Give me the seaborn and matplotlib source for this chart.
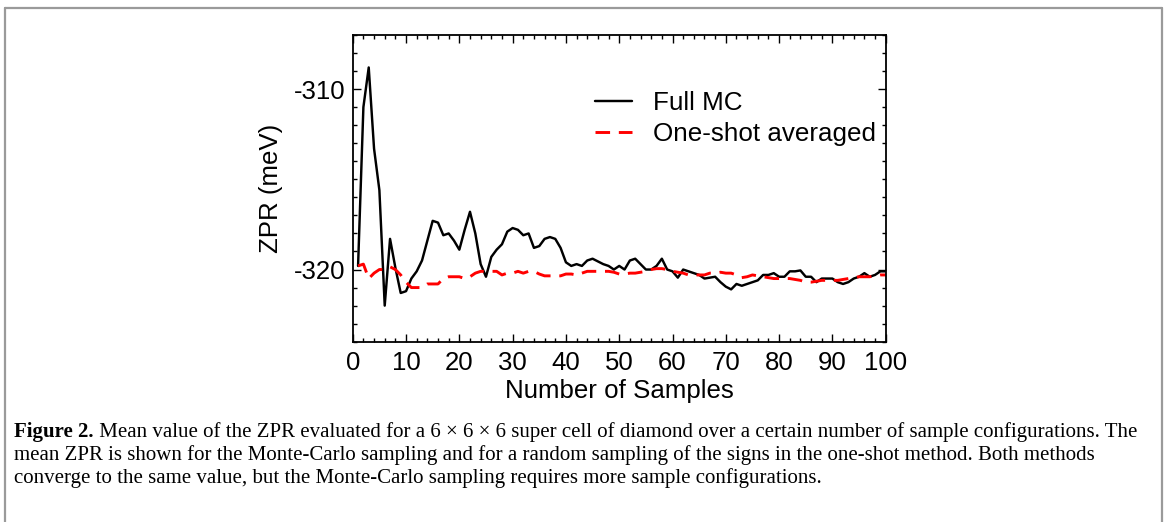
import numpy as np
import pandas as pd
import matplotlib
matplotlib.use("Agg")
import matplotlib.pyplot as plt
from matplotlib.ticker import MultipleLocator
from matplotlib.lines import Line2D
import seaborn as sns

# data (ZPR in meV vs. number of samples)
n_samples = list(range(1, 101))
full_mc = [
    -319.8, -311.0, -308.8, -313.3, -315.6, -322.0, -318.3, -319.9, -321.3, -321.2,
    -320.5, -320.1, -319.5, -318.4, -317.3, -317.4, -318.1, -318.0, -318.4, -318.9,
    -317.8, -316.8, -318.0, -319.7, -320.4, -319.3, -318.9, -318.6, -317.9, -317.7,
    -317.8, -318.1, -318.0, -318.8, -318.7, -318.3, -318.2, -318.3, -318.8, -319.6,
    -319.8, -319.7, -319.8, -319.5, -319.4, -319.55, -319.7, -319.8, -320.0, -319.8,
    -320.0, -319.5, -319.4, -319.7, -320.0, -320.0, -319.8, -319.4, -320.0, -320.1,
    -320.45, -320.0, -320.1, -320.2, -320.3, -320.5, -320.45, -320.4, -320.7, -320.95,
    -321.1, -320.8, -320.9, -320.8, -320.7, -320.6, -320.3, -320.3, -320.2, -320.4,
    -320.4, -320.1, -320.1, -320.05, -320.4, -320.4, -320.7, -320.5, -320.5, -320.5,
    -320.7, -320.8, -320.7, -320.5, -320.4, -320.2, -320.4, -320.3, -320.1, -320.1,
]
one_shot = [
    -319.8, -319.7, -320.5, -320.2, -320.0, -320.0, -319.85, -320.0, -320.3, -320.7,
    -321.0, -321.0, -321.0, -320.8, -320.8, -320.8, -320.5, -320.4, -320.4, -320.4,
    -320.5, -320.4, -320.2, -320.1, -320.1, -320.1, -320.1, -320.3, -320.2, -320.2,
    -320.1, -320.2, -320.1, -320.1, -320.25, -320.35, -320.35, -320.35, -320.35, -320.25,
    -320.25, -320.3, -320.2, -320.1, -320.1, -320.1, -320.1, -320.1, -320.15, -320.25,
    -320.25, -320.2, -320.2, -320.15, -320.1, -320.0, -319.95, -319.95, -320.0, -320.1,
    -320.15, -320.2, -320.3, -320.3, -320.3, -320.3, -320.2, -320.2, -320.15, -320.2,
    -320.2, -320.3, -320.45, -320.4, -320.3, -320.35, -320.4, -320.45, -320.5, -320.5,
    -320.5, -320.5, -320.55, -320.6, -320.7, -320.7, -320.65, -320.6, -320.6, -320.6,
    -320.6, -320.55, -320.5, -320.45, -320.4, -320.4, -320.4, -320.35, -320.3, -320.3,
]

caption_bold = "Figure 2."
caption_lines = [
    " Mean value of the ZPR evaluated for a 6 \u00d7 6 \u00d7 6 super cell of diamond over a certain number of sample configurations. The",
    "mean ZPR is shown for the Monte-Carlo sampling and for a random sampling of the signs in the one-shot method. Both methods",
    "converge to the same value, but the Monte-Carlo sampling requires more sample configurations.",
]

sns.set_style("ticks")
plt.rcParams['font.family'] = ['Liberation Sans', 'DejaVu Sans']
plt.rcParams['axes.unicode_minus'] = False
plt.rcParams['text.color'] = 'black'
plt.rcParams['axes.labelcolor'] = 'black'
plt.rcParams['xtick.color'] = 'black'
plt.rcParams['ytick.color'] = 'black'

df = pd.DataFrame({"n": n_samples, "Full MC": full_mc, "One-shot averaged": one_shot})

fig = plt.figure(figsize=(11.68, 5.22), dpi=100)
ax = fig.add_axes([0.302, 0.3454, 0.4563, 0.5876])

sns.lineplot(data=df, x="n", y="Full MC", ax=ax, color="black", lw=1.75, label="Full MC")
sns.lineplot(data=df, x="n", y="One-shot averaged", ax=ax, color="red", lw=2.1,
             linestyle=(0, (5.0, 3.0)), label="One-shot averaged")

ax.set_xlim(0, 100)
ax.set_ylim(-324, -307)
ax.xaxis.set_major_locator(MultipleLocator(10))
ax.xaxis.set_minor_locator(MultipleLocator(2))
ax.yaxis.set_major_locator(MultipleLocator(10))
ax.yaxis.set_minor_locator(MultipleLocator(1))
ax.tick_params(which="both", direction="in", top=True, right=True, width=1.0, color="black")
ax.tick_params(which="major", length=6, labelsize=18.5)
ax.tick_params(which="minor", length=3)
ax.tick_params(axis="x", pad=7)
ax.tick_params(axis="y", pad=5)
for s in ax.spines.values():
    s.set_linewidth(1.3)
    s.set_color("black")

ax.set_xlabel("Number of Samples", fontsize=18.6)
ax.set_ylabel("ZPR (meV)", fontsize=18.6)
ax.xaxis.set_label_coords(0.5, -0.122)
ax.yaxis.set_label_coords(-0.13, 0.5)

leg = ax.legend(loc="upper left", bbox_to_anchor=(595 / 1168, 1 - 91 / 522),
                bbox_transform=fig.transFigure, frameon=False, fontsize=18.7,
                handlelength=1.42, handletextpad=0.8, labelspacing=0.27,
                borderpad=0, borderaxespad=0)

# page frame of the figure box
frame_kw = dict(color="#9a9a9a", lw=1.6, transform=fig.transFigure)
fig.add_artist(Line2D([0.0047, 0.9946], [0.9847, 0.9847], **frame_kw))
fig.add_artist(Line2D([0.0047, 0.0047], [0.0, 0.9847], **frame_kw))
fig.add_artist(Line2D([0.9946, 0.9946], [0.0, 0.9847], **frame_kw))

# caption
cap_font = ['Liberation Serif', 'DejaVu Serif']
cap_size = 15
x0 = 14 / 1168
ys = [1 - 432 / 522, 1 - 455 / 522, 1 - 478 / 522]
tb = fig.text(x0, ys[0], caption_bold, fontsize=cap_size, fontweight="bold",
              family=cap_font, va="center", ha="left")
fig.canvas.draw()
bb = tb.get_window_extent()
fig.text(bb.x1 / fig.bbox.width, ys[0], caption_lines[0], fontsize=cap_size,
         family=cap_font, va="center", ha="left")
for line, y in zip(caption_lines[1:], ys[1:]):
    fig.text(x0, y, line, fontsize=cap_size, family=cap_font, va="center", ha="left")

fig.savefig("out.png", dpi=100)
